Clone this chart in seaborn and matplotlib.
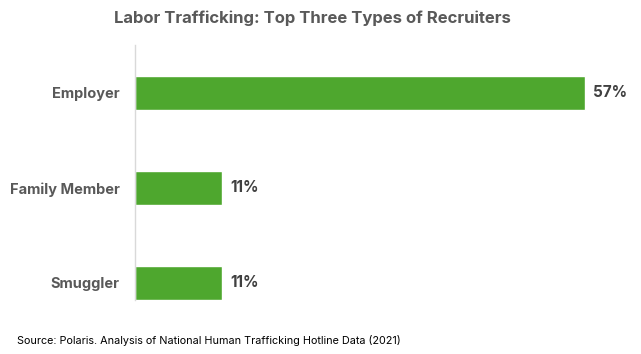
import matplotlib
matplotlib.use("Agg")
import matplotlib.pyplot as plt
import seaborn as sns
import pandas as pd

# Dati
recruiters = ["Employer", "Family Member", "Smuggler"]
shares = [57, 11, 11]
title = "Labor Trafficking: Top Three Types of Recruiters"
source = "Source: Polaris. Analysis of National Human Trafficking Hotline Data (2021)"

df = pd.DataFrame({"recruiter": recruiters, "share": shares})

sns.set_style("white")
plt.rcParams['font.family'] = ['Inter', 'DejaVu Sans']

W, H = 641, 354
fig = plt.figure(figsize=(W / 100, H / 100), dpi=100)
# asse in pixel: sinistra 135, destra 620, alto 45, basso 300
ax = fig.add_axes([135 / W, 1 - 300 / H, (620 - 135) / W, (300 - 45) / H])

sns.barplot(data=df, x="share", y="recruiter", color="#4EA72E", width=0.36,
            saturation=1, ax=ax)

ax.set_xlim(0, 57 * 485 / 450)
ax.set_ylim(2.18, -0.505)
ax.set_xlabel("")
ax.set_ylabel("")
ax.set_xticks([])
for s in ["top", "right", "bottom"]:
    ax.spines[s].set_visible(False)
ax.spines["left"].set_color("#d9d9d9")
ax.spines["left"].set_linewidth(1)
ax.tick_params(axis="y", length=0, pad=11)
for lab in ax.get_yticklabels():
    lab.set_fontsize(10.5)
    lab.set_fontweight("bold")
    lab.set_color("#595959")

for c in ax.containers:
    ax.bar_label(c, labels=[f"{v}%" for v in shares], padding=6,
                 fontsize=11, fontweight="bold", color="#404040")

fig.text(312 / W, 1 - 18 / H, title, ha="center", va="center",
         fontsize=12, fontweight="bold", color="#595959")
fig.text(17 / W, 1 - 340 / H, source, ha="left", va="center",
         fontsize=7.8, color="#000000")

plt.savefig("out.png", dpi=100)
